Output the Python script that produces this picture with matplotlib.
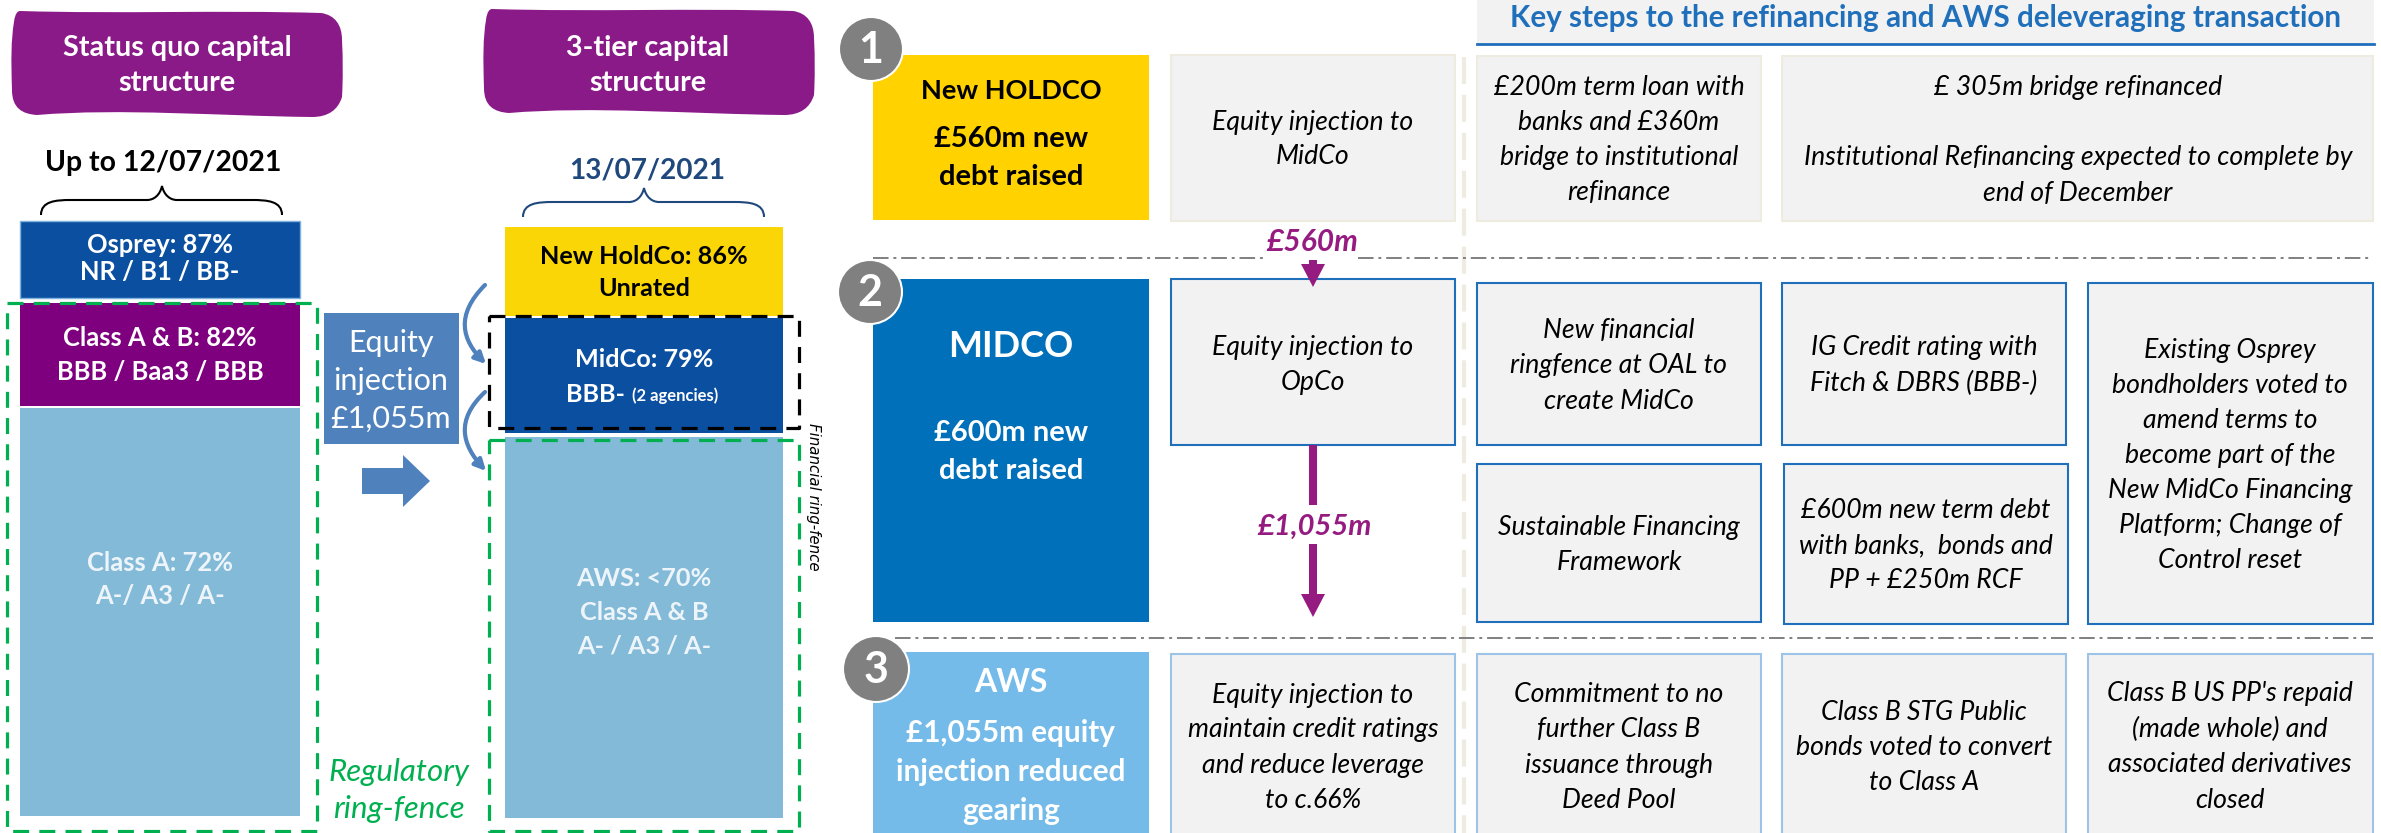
import matplotlib
matplotlib.use("Agg")
import matplotlib.pyplot as plt
from matplotlib.patches import Rectangle, PathPatch, Circle, FancyArrowPatch
from matplotlib.path import Path

plt.rcParams['font.family'] = ['Lato', 'DejaVu Sans']

# text content
blob_left = ["Status quo capital", "structure"]
blob_right = ["3-tier capital", "structure"]
osprey = ["Osprey: 87%", "NR / B1 / BB-"]
class_ab = ["Class A & B: 82%", "BBB / Baa3 / BBB"]
class_a = ["Class A: 72%", "A-/ A3 / A-"]
holdco = ["New HoldCo: 86%", "Unrated"]
aws_stack = ["AWS: <70%", "Class A & B", "A- / A3 / A-"]
equity = ["Equity", "injection", "£1,055m"]
fence = ["Regulatory", "ring-fence"]
yellow_txt = ["£560m new", "debt raised"]
mid_txt = ["£600m new", "debt raised"]
aws_txt = ["£1,055m equity", "injection reduced", "gearing"]
col1 = [["Equity injection to", "MidCo"],
        ["Equity injection to", "OpCo"],
        ["Equity injection to", "maintain credit ratings", "and reduce leverage", "to c.66%"]]
step_loan = ["£200m term loan with", "banks and £360m", "bridge to institutional", "refinance"]
step_ring = ["New financial", "ringfence at OAL to", "create MidCo"]
step_ig = ["IG Credit rating with", "Fitch & DBRS (BBB-)"]
step_osprey = ["Existing Osprey", "bondholders voted to", "amend terms to", "become part of the",
               "New MidCo Financing", "Platform; Change of", "Control reset"]
step_sust = ["Sustainable Financing", "Framework"]
step_term = ["£600m new term debt", "with banks,  bonds and", "PP + £250m RCF"]
step_commit = ["Commitment to no", "further Class B", "issuance through", "Deed Pool"]
step_stg = ["Class B STG Public", "bonds voted to convert", "to Class A"]
step_pp = ["Class B US PP's repaid", "(made whole) and", "associated derivatives", "closed"]

PURPLE = '#8B1A89'
ARROW = '#951B81'
NAVY = '#0B4FA0'
SKY = '#83BAD8'
STEEL = '#4F81BD'
GREEN = '#00B050'
BOX_EDGE = '#1F6FBB'
PALE_EDGE = '#9DC3E6'
CREAM = '#EEECE1'
PALE_TXT = '#EEF5FA'

fig = plt.figure(figsize=(23.81, 8.33), dpi=100)
ax = fig.add_axes([0, 0, 1, 1])
ax.set_xlim(0, 2381)
ax.set_ylim(833, 0)
ax.axis('off')


def rect(x0, y0, x1, y1, face, edge='none', lw=0, z=1):
    ax.add_patch(Rectangle((x0, y0), x1 - x0, y1 - y0, fc=face, ec=edge, lw=lw, zorder=z))


def lines(x, y, dy, txt, size, color='black', weight='normal', style='normal'):
    for i, t in enumerate(txt):
        ax.text(x, y + i * dy, t, ha='center', va='center', fontsize=size, color=color,
                fontweight=weight, fontstyle=style, zorder=6)


def blob(dx, dy):
    v = [(20, 11), (120, 14), (220, 10), (321, 13),
         (335, 15), (342, 25), (342, 40),
         (343, 60), (343, 80), (342, 97),
         (338, 110), (328, 117), (312, 117),
         (220, 116), (120, 108), (37, 115),
         (22, 114), (12, 108), (12, 90),
         (11, 60), (11, 40), (14, 22),
         (15, 13), (18, 11), (20, 11)]
    codes = [Path.MOVETO] + [Path.CURVE4] * 24
    ax.add_patch(PathPatch(Path([(a + dx, b + dy) for a, b in v], codes), fc=PURPLE, ec='none', zorder=2))


def brace(x0, x1, xp, top, bot, color):
    v = [(x0, bot), (x0, top + 15), (x0 + 15, top + 14), (x0 + 30, top + 14),
         (xp - 30, top + 14), (xp - 15, top + 14), (xp - 8, top + 14), (xp - 2, top + 9), (xp, top),
         (xp + 2, top + 9), (xp + 8, top + 14), (xp + 15, top + 14),
         (x1 - 30, top + 14), (x1 - 15, top + 14), (x1, top + 15), (x1, bot)]
    codes = [Path.MOVETO, Path.CURVE4, Path.CURVE4, Path.CURVE4, Path.LINETO,
             Path.LINETO, Path.CURVE4, Path.CURVE4, Path.CURVE4, Path.CURVE4, Path.CURVE4,
             Path.CURVE4, Path.LINETO, Path.CURVE4, Path.CURVE4, Path.CURVE4]
    ax.add_patch(PathPatch(Path(v, codes), fc='none', ec=color, lw=1.5, zorder=3))


def dashed(x0, y0, x1, y1, color, z=5):
    ax.plot([x0, x1, x1, x0, x0], [y0, y0, y1, y1, y0], color=color, lw=2.3,
            ls=(0, (5, 3.2)), zorder=z)


def down_arrow(x, y0, y1):
    ax.arrow(x, y0, 0, y1 - y0, width=8, head_width=24, head_length=23, fc=ARROW, ec='none',
             length_includes_head=True, zorder=5)


def bubble(x, y, r, label):
    ax.add_patch(Circle((x, y), r, fc='#808080', ec='white', lw=1.5, zorder=7))
    ax.text(x, y + 1, label, ha='center', va='center', fontsize=31, fontweight='bold',
            color='white', zorder=8)


# left side, capital structure
blob(0, 0)
blob(472, -2)
lines(177, 48, 35, blob_left, 20.7, 'white', 'bold')
lines(648, 48, 35, blob_right, 20.7, 'white', 'bold')
ax.text(163, 163, "Up to 12/07/2021", ha='center', va='center', fontsize=20.4, fontweight='bold', color='black')
ax.text(647, 170, "13/07/2021", ha='center', va='center', fontsize=20.2, fontweight='bold', color='#1F497D')
brace(41, 282, 162, 186, 215, 'black')
brace(523, 764, 644, 188, 217, '#1F497D')

rect(20, 221, 300, 298, NAVY, '#7FB2DC', 1)
rect(20, 303, 300, 406, '#7F007F')
rect(20, 408, 300, 816, SKY)
lines(160, 245, 27, osprey, 18.4, 'white', 'bold')
lines(160, 338, 34, class_ab, 18.4, 'white', 'bold')
lines(160, 563, 33, class_a, 18.4, PALE_TXT, 'bold')

rect(505, 227, 783, 316, '#FBD606')
rect(505, 318, 783, 433, NAVY)
rect(505, 437, 783, 818, SKY)
lines(644, 257, 32, holdco, 18.2, 'black', 'bold')
ax.text(644, 359, "MidCo: 79%", ha='center', va='center', fontsize=18.2, fontweight='bold', color='white', zorder=6)
ax.text(595, 394, "BBB-", ha='center', va='center', fontsize=18.2, fontweight='bold', color='white', zorder=6)
ax.text(675, 396, "(2 agencies)", ha='center', va='center', fontsize=12, fontweight='bold', color='white', zorder=6)
lines(644, 578, 34, aws_stack, 18.2, PALE_TXT, 'bold')

dashed(7, 303, 317, 831, GREEN)
dashed(489, 440, 799, 831, GREEN)
dashed(489, 316, 799, 428, 'black', z=4)

rect(324, 313, 459, 444, STEEL)
lines(391, 343, 38, equity, 22, 'white')
ax.arrow(362, 481, 68, 0, width=26, head_width=52, head_length=27, fc=STEEL, ec='none',
         length_includes_head=True, zorder=3)
for p in ([(485, 285), (455, 315), (462, 340), (486, 364)],
          [(485, 392), (455, 420), (462, 445), (486, 471)]):
    ax.add_patch(FancyArrowPatch(path=Path(p, [Path.MOVETO, Path.CURVE4, Path.CURVE4, Path.CURVE4]),
                                 arrowstyle='-|>', mutation_scale=16, color=STEEL, lw=3, zorder=5))
lines(399, 772, 37, fence, 22.5, GREEN, style='italic')
ax.text(813, 497, "Financial ring-fence", rotation=270, ha='center', va='center', fontsize=10.8,
        fontstyle='italic', family='DejaVu Sans', color='black', zorder=6)

# right side, tiers and steps
ax.plot([1464, 1464], [57, 833], color=CREAM, lw=3, ls=(0, (6.5, 2.6)), zorder=1)
rect(1477, 0, 2374, 44, '#F2F2F2')
ax.plot([1477, 2374], [44, 44], color=BOX_EDGE, lw=2, zorder=2)
ax.text(1925, 18, "Key steps to the refinancing and AWS deleveraging transaction", ha='center', va='center',
        fontsize=21.3, fontweight='bold', color=BOX_EDGE, zorder=3)

rect(873, 55, 1149, 220, '#FFD200')
rect(873, 279, 1149, 622, '#0070BA')
rect(873, 652, 1149, 833, '#74BBE9')
ax.text(1011, 91, "New HOLDCO", ha='center', va='center', fontsize=19.5, fontweight='bold', color='black', zorder=6)
lines(1011, 139, 38, yellow_txt, 21, 'black', 'bold')
ax.text(1011, 346, "MIDCO", ha='center', va='center', fontsize=26, fontweight='bold', color='white', zorder=6)
lines(1011, 433, 38, mid_txt, 21, 'white', 'bold')
ax.text(1011, 683, "AWS", ha='center', va='center', fontsize=23, fontweight='bold', color='white', zorder=6)
lines(1011, 733, 39, aws_txt, 21.4, 'white', 'bold')

for box in [(1171, 55, 1455, 221), (1477, 56, 1761, 221), (1782, 56, 2373, 221)]:
    rect(*box, '#F2F2F2', CREAM, 1.5, 2)
for box in [(1171, 279, 1455, 445), (1477, 283, 1761, 445), (1782, 283, 2066, 445), (2088, 283, 2373, 624),
            (1477, 464, 1761, 622), (1784, 464, 2068, 624)]:
    rect(*box, '#F2F2F2', BOX_EDGE, 1.5, 2)
for box in [(1171, 654, 1455, 840), (1477, 654, 1761, 840), (1782, 654, 2066, 840), (2088, 654, 2373, 840)]:
    rect(*box, '#F2F2F2', PALE_EDGE, 1.5, 2)

S = 19.2
lines(1313, 122, 34, col1[0], S, style='italic')
lines(1313, 347, 35, col1[1], S, style='italic')
lines(1313, 695, 35, col1[2], S, style='italic')
lines(1619, 87, 35, step_loan, S, style='italic')
ax.text(2078, 87, "£ 305m bridge refinanced", ha='center', va='center', fontsize=S, fontstyle='italic', zorder=6)
lines(2078, 157, 36, ["Institutional Refinancing expected to complete by", "end of December"], S, style='italic')
lines(1619, 330, 35.5, step_ring, S, style='italic')
lines(1924, 347, 36, step_ig, S, style='italic')
lines(2230, 350, 35, step_osprey, S, style='italic')
lines(1619, 527, 35, step_sust, S, style='italic')
lines(1926, 511, 35, step_term, S, style='italic')
lines(1619, 695, 35, step_commit, S, style='italic')
lines(1924, 712, 35.5, step_stg, S, style='italic')
lines(2230, 694, 35.5, step_pp, S, style='italic')

# separators
sep = (0, (8, 2.5, 1.5, 2.5))
ax.plot([873, 1263], [258, 258], color='#808080', lw=1.4, ls=sep, zorder=3)
ax.plot([1358, 2373], [258, 258], color='#808080', lw=1.4, ls=sep, zorder=3)
ax.plot([895, 2373], [638, 638], color='#808080', lw=1.4, ls=sep, zorder=3)

# flows
ax.text(1312, 242, "£560m", ha='center', va='center', fontsize=21.5, fontweight='bold', fontstyle='italic',
        color=ARROW, zorder=6)
down_arrow(1313, 260, 287)
ax.plot([1313, 1313], [445, 505], color=ARROW, lw=5.8, solid_capstyle='butt', zorder=5)
ax.text(1314, 527, "£1,055m", ha='center', va='center', fontsize=21, fontweight='bold', fontstyle='italic',
        color=ARROW, zorder=6)
down_arrow(1313, 544, 617)

bubble(871, 49, 32, "1")
bubble(870, 292, 32, "2")
bubble(876, 669, 33, "3")

fig.savefig("out.png", dpi=100)
